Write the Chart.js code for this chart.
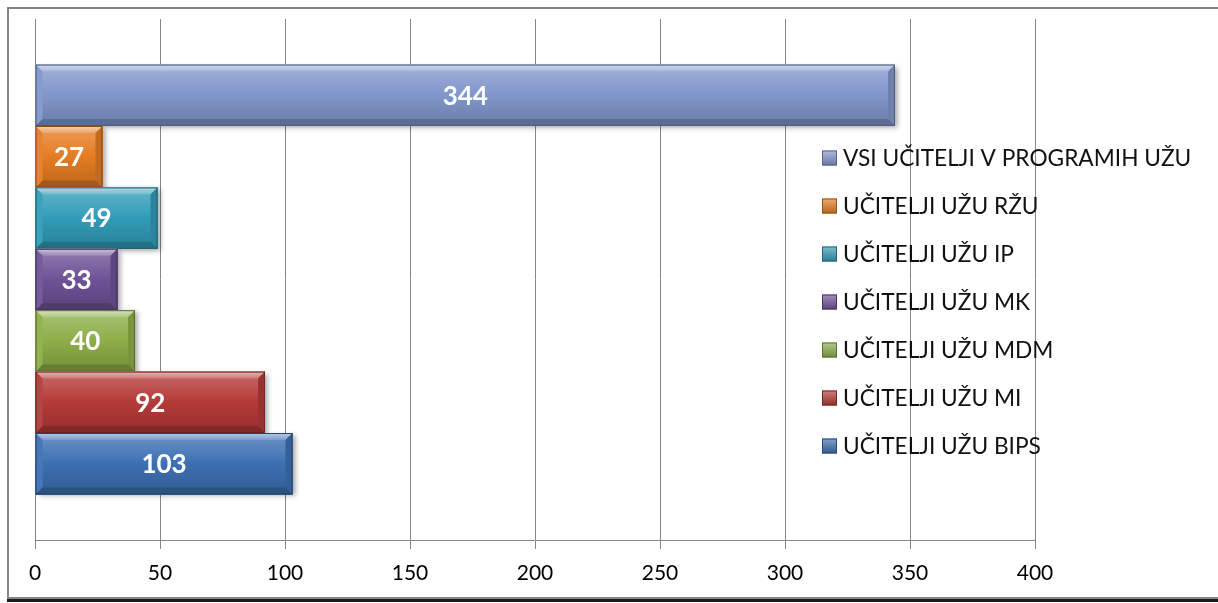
<!DOCTYPE html>
<html>
<head>
<meta charset="utf-8">
<script src="https://cdn.jsdelivr.net/npm/chart.js@4.4.1/dist/chart.umd.min.js"></script>
<style>
    html, body { margin: 0; padding: 0; background: #fff; overflow: hidden; }
    #frame {
        position: absolute; left: 7px; top: 7px;
        width: 1230px; height: 588px;
        border: 2px solid #848484;
        box-shadow: 0 3px 0 #1a1a1a;
    }
    #wrap { position: absolute; left: 0; top: 0; width: 1218px; height: 603px; }
</style>
</head>
<body>
<div id="frame"></div>
<div id="wrap"><canvas id="chart" width="1218" height="603"></canvas></div>
<script>
// Chart data
const categories = [''];
const seriesNames = [
    'VSI UČITELJI V PROGRAMIH UŽU',
    'UČITELJI UŽU RŽU',
    'UČITELJI UŽU IP',
    'UČITELJI UŽU MK',
    'UČITELJI UŽU MDM',
    'UČITELJI UŽU MI',
    'UČITELJI UŽU BIPS'
];
const seriesValues = [344, 27, 49, 33, 40, 92, 103];
const seriesColors = ['#8196cb', '#e57c22', '#319cb8', '#6e5296', '#8dae48', '#b43a38', '#3d70b2'];
const tickValues = [0, 50, 100, 150, 200, 250, 300, 350, 400];

const FONT = 'Lato, "Open Sans", sans-serif';

function shade(hex, amt) {
    const n = parseInt(hex.slice(1), 16);
    let r = (n >> 16) & 255, g = (n >> 8) & 255, b = n & 255;
    const f = c => Math.max(0, Math.min(255, Math.round(amt > 0 ? c + (255 - c) * amt : c * (1 + amt))));
    return `rgb(${f(r)}, ${f(g)}, ${f(b)})`;
}

function barRect(el) {
    const p = el.getProps(['x', 'y', 'base', 'height'], true);
    const left = Math.min(p.x, p.base);
    return { left, top: p.y - p.height / 2, w: Math.abs(p.x - p.base), h: p.height, cy: p.y };
}

// 3D look for the bars (shadow, bevel, labels)
const bevelPlugin = {
    id: 'bevel',
    beforeDatasetsDraw(chart) {
        const ctx = chart.ctx;
        ctx.save();
        chart.data.datasets.forEach((ds, i) => {
            chart.getDatasetMeta(i).data.forEach(el => {
                const r = barRect(el);
                ctx.shadowColor = 'rgba(0, 0, 0, 0.35)';
                ctx.shadowBlur = 5;
                ctx.shadowOffsetX = 3;
                ctx.shadowOffsetY = 2;
                ctx.fillStyle = ds.backgroundColor;
                ctx.fillRect(r.left, r.top, r.w, r.h);
            });
        });
        ctx.restore();
    },
    afterDatasetsDraw(chart) {
        const ctx = chart.ctx;
        const b = 7;
        chart.data.datasets.forEach((ds, i) => {
            const color = seriesColors[i];
            chart.getDatasetMeta(i).data.forEach((el, j) => {
                const r = barRect(el);
                const right = r.left + r.w, bottom = r.top + r.h;
                ctx.save();

                // body gradient
                const g = ctx.createLinearGradient(0, r.top, 0, bottom);
                g.addColorStop(0, shade(color, 0.25));
                g.addColorStop(0.5, color);
                g.addColorStop(1, shade(color, -0.18));
                ctx.fillStyle = g;
                ctx.fillRect(r.left, r.top, r.w, r.h);

                // top bevel
                ctx.beginPath();
                ctx.moveTo(r.left, r.top);
                ctx.lineTo(right, r.top);
                ctx.lineTo(right - b, r.top + b);
                ctx.lineTo(r.left + b, r.top + b);
                ctx.closePath();
                const gt = ctx.createLinearGradient(0, r.top, 0, r.top + b);
                gt.addColorStop(0, shade(color, 0.65));
                gt.addColorStop(1, shade(color, 0.3));
                ctx.fillStyle = gt;
                ctx.fill();

                // right bevel
                ctx.beginPath();
                ctx.moveTo(right, r.top);
                ctx.lineTo(right, bottom);
                ctx.lineTo(right - b, bottom - b);
                ctx.lineTo(right - b, r.top + b);
                ctx.closePath();
                ctx.fillStyle = shade(color, -0.15);
                ctx.fill();

                // bottom bevel
                ctx.beginPath();
                ctx.moveTo(r.left, bottom);
                ctx.lineTo(right, bottom);
                ctx.lineTo(right - b, bottom - b);
                ctx.lineTo(r.left + b, bottom - b);
                ctx.closePath();
                ctx.fillStyle = shade(color, -0.28);
                ctx.fill();

                // left bevel
                ctx.beginPath();
                ctx.moveTo(r.left, r.top);
                ctx.lineTo(r.left + b, r.top + b);
                ctx.lineTo(r.left + b, bottom - b);
                ctx.lineTo(r.left, bottom);
                ctx.closePath();
                ctx.fillStyle = shade(color, 0.05);
                ctx.fill();

                ctx.strokeStyle = shade(color, -0.4);
                ctx.lineWidth = 1;
                ctx.strokeRect(r.left + 0.5, r.top + 0.5, r.w - 1, r.h - 1);

                // value label
                ctx.fillStyle = '#ffffff';
                ctx.font = `bold 26px ${FONT}`;
                ctx.textAlign = 'center';
                ctx.textBaseline = 'middle';
                ctx.fillText(String(ds.data[j]), r.left + r.w / 2, r.cy + 1);
                ctx.restore();
            });
        });
    }
};

// Legend drawn inside the plot, on the right
const floatLegend = {
    id: 'floatLegend',
    afterDraw(chart, args, opts) {
        const ctx = chart.ctx;
        ctx.save();
        chart.data.datasets.forEach((ds, i) => {
            const y = opts.top + i * opts.step;
            const s = opts.box;
            const x = opts.left;
            const g = ctx.createLinearGradient(0, y - s / 2, 0, y + s / 2);
            g.addColorStop(0, shade(seriesColors[i], 0.35));
            g.addColorStop(1, shade(seriesColors[i], -0.2));
            ctx.fillStyle = g;
            ctx.fillRect(x, y - s / 2, s, s);
            ctx.strokeStyle = shade(seriesColors[i], -0.35);
            ctx.lineWidth = 1;
            ctx.strokeRect(x + 0.5, y - s / 2 + 0.5, s - 1, s - 1);
            ctx.fillStyle = '#111';
            ctx.font = `22.7px ${FONT}`;
            ctx.textAlign = 'left';
            ctx.textBaseline = 'middle';
            ctx.fillText(ds.label, x + s + 6, y + 1);
        });
        ctx.restore();
    }
};

const datasets = seriesNames.map((name, i) => ({
    label: name,
    data: [seriesValues[i]],
    backgroundColor: seriesColors[i],
    borderWidth: 0,
    categoryPercentage: 0.825,
    barPercentage: 1.0
}));

new Chart(document.getElementById('chart'), {
    type: 'bar',
    data: { labels: categories, datasets: datasets },
    plugins: [bevelPlugin, floatLegend],
    options: {
        indexAxis: 'y',
        responsive: false,
        animation: false,
        devicePixelRatio: 1,
        layout: { padding: { left: 35, right: 183, top: 19, bottom: 0 } },
        plugins: {
            legend: { display: false },
            tooltip: { enabled: false },
            floatLegend: { left: 822, top: 158, step: 48, box: 15 }
        },
        scales: {
            x: {
                min: tickValues[0],
                max: tickValues[tickValues.length - 1],
                afterBuildTicks: scale => {
                    scale.ticks = tickValues.map(v => ({ value: v }));
                },
                afterFit: scale => { scale.height = 63; },
                grid: { color: '#868686', lineWidth: 1, tickLength: 9, drawTicks: true },
                border: { color: '#868686', width: 1 },
                ticks: {
                    color: '#000',
                    font: { family: FONT, size: 21 },
                    padding: 12,
                    maxRotation: 0
                }
            },
            y: { display: false }
        }
    }
});
</script>
</body>
</html>
